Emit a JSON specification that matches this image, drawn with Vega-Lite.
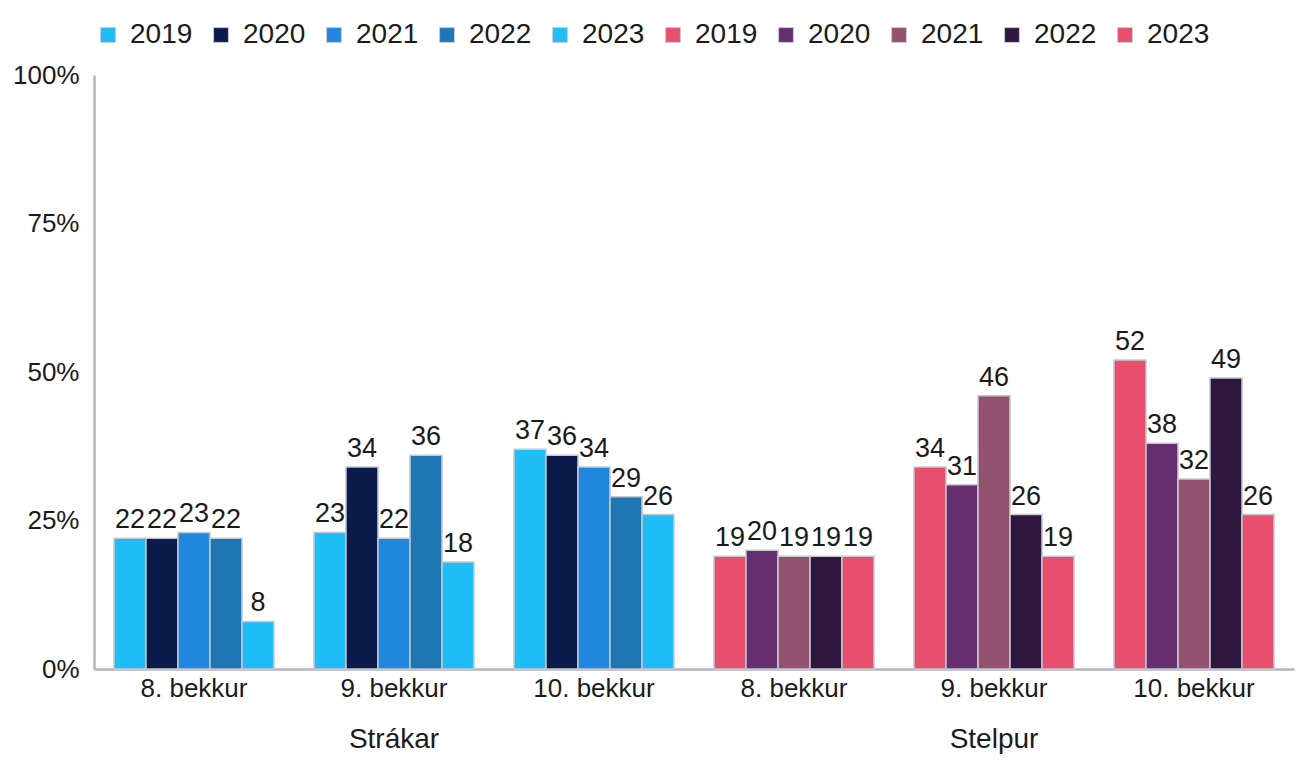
{
  "$schema": "https://vega.github.io/schema/vega-lite/v6.json",
  "width": 1200,
  "height": 594,
  "padding": {"left": 12, "top": 21, "right": 10, "bottom": 4},
  "config": {
    "view": {"stroke": null},
    "font": "Liberation Sans"
  },
  "data": {
    "values": [
      {"cell": "a8", "gender": "Strákar", "year": "2019", "series": "a2019", "value": 22},
      {"cell": "a8", "gender": "Strákar", "year": "2020", "series": "b2020", "value": 22},
      {"cell": "a8", "gender": "Strákar", "year": "2021", "series": "c2021", "value": 23},
      {"cell": "a8", "gender": "Strákar", "year": "2022", "series": "d2022", "value": 22},
      {"cell": "a8", "gender": "Strákar", "year": "2023", "series": "e2023", "value": 8},
      {"cell": "b9", "gender": "Strákar", "year": "2019", "series": "a2019", "value": 23},
      {"cell": "b9", "gender": "Strákar", "year": "2020", "series": "b2020", "value": 34},
      {"cell": "b9", "gender": "Strákar", "year": "2021", "series": "c2021", "value": 22},
      {"cell": "b9", "gender": "Strákar", "year": "2022", "series": "d2022", "value": 36},
      {"cell": "b9", "gender": "Strákar", "year": "2023", "series": "e2023", "value": 18},
      {"cell": "c10", "gender": "Strákar", "year": "2019", "series": "a2019", "value": 37},
      {"cell": "c10", "gender": "Strákar", "year": "2020", "series": "b2020", "value": 36},
      {"cell": "c10", "gender": "Strákar", "year": "2021", "series": "c2021", "value": 34},
      {"cell": "c10", "gender": "Strákar", "year": "2022", "series": "d2022", "value": 29},
      {"cell": "c10", "gender": "Strákar", "year": "2023", "series": "e2023", "value": 26},
      {"cell": "d8", "gender": "Stelpur", "year": "2019", "series": "f2019", "value": 19},
      {"cell": "d8", "gender": "Stelpur", "year": "2020", "series": "g2020", "value": 20},
      {"cell": "d8", "gender": "Stelpur", "year": "2021", "series": "h2021", "value": 19},
      {"cell": "d8", "gender": "Stelpur", "year": "2022", "series": "i2022", "value": 19},
      {"cell": "d8", "gender": "Stelpur", "year": "2023", "series": "j2023", "value": 19},
      {"cell": "e9", "gender": "Stelpur", "year": "2019", "series": "f2019", "value": 34},
      {"cell": "e9", "gender": "Stelpur", "year": "2020", "series": "g2020", "value": 31},
      {"cell": "e9", "gender": "Stelpur", "year": "2021", "series": "h2021", "value": 46},
      {"cell": "e9", "gender": "Stelpur", "year": "2022", "series": "i2022", "value": 26},
      {"cell": "e9", "gender": "Stelpur", "year": "2023", "series": "j2023", "value": 19},
      {"cell": "f10", "gender": "Stelpur", "year": "2019", "series": "f2019", "value": 52},
      {"cell": "f10", "gender": "Stelpur", "year": "2020", "series": "g2020", "value": 38},
      {"cell": "f10", "gender": "Stelpur", "year": "2021", "series": "h2021", "value": 32},
      {"cell": "f10", "gender": "Stelpur", "year": "2022", "series": "i2022", "value": 49},
      {"cell": "f10", "gender": "Stelpur", "year": "2023", "series": "j2023", "value": 26}
    ]
  },
  "encoding": {
    "x": {
      "field": "cell",
      "type": "nominal",
      "scale": {"paddingInner": 0.2, "paddingOuter": 0.1},
      "axis": {
        "title": null,
        "labelAngle": 0,
        "labelExpr": "slice(datum.value, 1) + '. bekkur'",
        "labelFontSize": 26,
        "labelColor": "#1a1a1a",
        "labelPadding": 6,
        "ticks": false,
        "domainColor": "#b4b4c4",
        "domainWidth": 2.5
      }
    }
  },
  "layer": [
    {
      "mark": {"type": "bar", "stroke": "#c8c8d2", "strokeWidth": 1.5},
      "encoding": {
        "xOffset": {"field": "year", "type": "nominal"},
        "y": {
          "field": "value",
          "type": "quantitative",
          "scale": {"domain": [0, 100]},
          "axis": {
            "title": null,
            "values": [0, 25, 50, 75, 100],
            "labelExpr": "datum.value + '%'",
            "labelFontSize": 26,
            "labelColor": "#1a1a1a",
            "labelPadding": 15,
            "ticks": false,
            "grid": false,
            "domainColor": "#b4b4c4",
            "domainWidth": 2.5
          }
        },
        "color": {
          "field": "series",
          "type": "nominal",
          "scale": {
            "range": ["#1ebdf6", "#0b1b4b", "#1f88de", "#1e77b2", "#1ebdf6", "#e84f6d", "#652e6e", "#935170", "#2e1840", "#e84f6d"]
          },
          "legend": {
            "title": null,
            "orient": "top",
            "direction": "horizontal",
            "offset": 26,
            "labelExpr": "slice(datum.label, 1)",
            "labelFontSize": 28,
            "labelColor": "#1a1a1a",
            "labelOffset": 8,
            "columnPadding": 14,
            "symbolType": "square",
            "symbolSize": 220,
            "symbolStrokeColor": "#c8c8d2",
            "symbolStrokeWidth": 1
          }
        }
      }
    },
    {
      "mark": {"type": "text", "baseline": "bottom", "dy": -4, "fontSize": 27, "color": "#1a1a1a"},
      "encoding": {
        "xOffset": {"field": "year", "type": "nominal"},
        "y": {"field": "value", "type": "quantitative"},
        "text": {"field": "value", "type": "quantitative"}
      }
    },
    {
      "data": {
        "values": [
          {"gender": "Strákar", "cell": "b9"},
          {"gender": "Stelpur", "cell": "e9"}
        ]
      },
      "mark": {"type": "text", "baseline": "middle", "fontSize": 28, "color": "#1a1a1a"},
      "encoding": {
        "y": {"datum": -12},
        "text": {"field": "gender", "type": "nominal"}
      }
    }
  ]
}
